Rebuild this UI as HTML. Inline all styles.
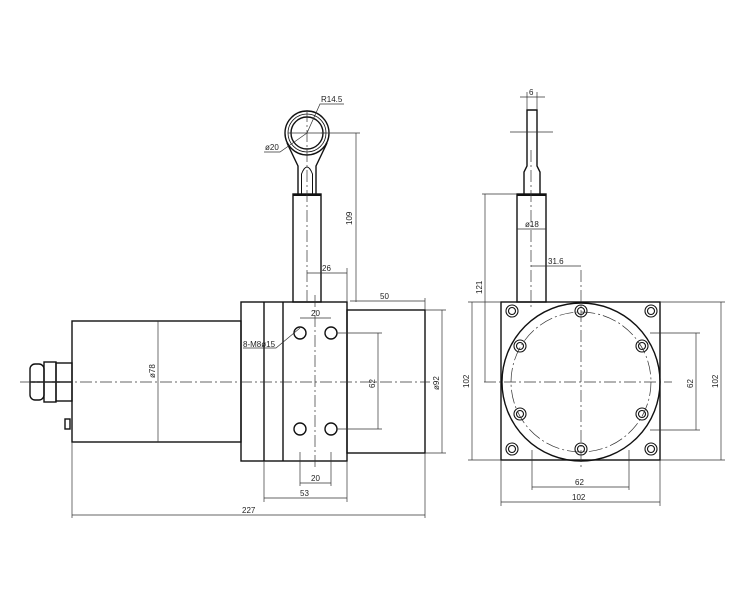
<!DOCTYPE html>
<html><head><style>body{margin:0;background:#fff}svg{display:block}text{font-family:"Liberation Sans",sans-serif;font-size:8px;fill:#222}</style></head><body>
<svg width="750" height="600" viewBox="0 0 750 600">
<g fill="none" stroke="#111" stroke-width="1.4">
<!-- left view -->
<rect x="72" y="321" width="169" height="121"/>
<rect x="241" y="302" width="106" height="159"/>
<line x1="264" y1="302" x2="264" y2="461"/><line x1="283" y1="302" x2="283" y2="461"/>
<rect x="347" y="310" width="78" height="143"/>
<rect x="293" y="194" width="28" height="108"/>
<path d="M287 143 L298 166 L298 194 M327 143 L316 166 L316 194"/>
<path d="M301.5 194 L301.5 174 Q307 160 312.5 174 L312.5 194" stroke-width="1"/>
<line x1="293" y1="195" x2="321" y2="195" stroke-width="2"/>
<circle cx="307" cy="133" r="22" fill="#fff"/><circle cx="307" cy="133" r="19" stroke-width="0.8"/><circle cx="307" cy="133" r="16"/>
<circle cx="300" cy="333" r="6"/><circle cx="331" cy="333" r="6"/><circle cx="300" cy="429" r="6"/><circle cx="331" cy="429" r="6"/>
<rect x="30" y="364" width="14" height="36" rx="5"/><rect x="44" y="362" width="12" height="40"/><rect x="56" y="363" width="16" height="38"/>
<line x1="30" y1="382" x2="72" y2="382"/>
<rect x="65" y="419" width="5" height="10"/>
<!-- right view -->
<rect x="501" y="302" width="159" height="158"/>
<circle cx="581" cy="382" r="79"/>
<rect x="517" y="194" width="29" height="108"/>
<line x1="517" y1="195" x2="546" y2="195" stroke-width="2"/>
<path d="M524 194 L524 172 L527 166 L527 110 L537 110 L537 166 L540 172 L540 194"/>
</g>
<g fill="none" stroke="#111" stroke-width="1.1">
<circle cx="512" cy="311" r="6"/><circle cx="651" cy="311" r="6"/><circle cx="512" cy="449" r="6"/><circle cx="651" cy="449" r="6"/>
<circle cx="581" cy="311" r="6"/><circle cx="581" cy="449" r="6"/><circle cx="520" cy="346" r="6"/><circle cx="642" cy="346" r="6"/><circle cx="520" cy="414" r="6"/><circle cx="642" cy="414" r="6"/>
<circle cx="512" cy="311" r="3.5"/><circle cx="651" cy="311" r="3.5"/><circle cx="512" cy="449" r="3.5"/><circle cx="651" cy="449" r="3.5"/>
<circle cx="581" cy="311" r="3.5"/><circle cx="581" cy="449" r="3.5"/><circle cx="520" cy="346" r="3.5"/><circle cx="642" cy="346" r="3.5"/><circle cx="520" cy="414" r="3.5"/><circle cx="642" cy="414" r="3.5"/>
</g>
<g fill="none" stroke="#333" stroke-width="0.7">
<circle cx="581" cy="382" r="70" stroke-dasharray="14 3 2 3"/>
<g stroke-dasharray="12 3 2 3">
<line x1="20" y1="382" x2="430" y2="382"/><line x1="315" y1="295" x2="315" y2="470"/><line x1="307" y1="110" x2="307" y2="302"/>
<line x1="484" y1="382" x2="672" y2="382"/><line x1="581" y1="270" x2="581" y2="470"/><line x1="531" y1="150" x2="531" y2="310"/>
</g>
<line x1="288" y1="133" x2="326" y2="133"/>
<!-- left dims -->
<line x1="321" y1="133" x2="360" y2="133"/><line x1="356" y1="133" x2="356" y2="302"/>
<line x1="307" y1="273" x2="347" y2="273"/><line x1="347" y1="268" x2="347" y2="302"/>
<line x1="350" y1="301" x2="425" y2="301"/><line x1="425" y1="298" x2="425" y2="310"/>
<line x1="425" y1="310" x2="446" y2="310"/><line x1="425" y1="453" x2="446" y2="453"/><line x1="442" y1="310" x2="442" y2="453"/>
<line x1="337" y1="333" x2="382" y2="333"/><line x1="337" y1="429" x2="382" y2="429"/><line x1="378" y1="333" x2="378" y2="429"/>
<line x1="158" y1="321" x2="158" y2="442"/>
<line x1="300" y1="318" x2="331" y2="318"/>
<line x1="300" y1="452" x2="300" y2="486"/><line x1="331" y1="452" x2="331" y2="486"/><line x1="300" y1="483" x2="331" y2="483"/>
<line x1="264" y1="461" x2="264" y2="502"/><line x1="347" y1="461" x2="347" y2="502"/><line x1="264" y1="498" x2="347" y2="498"/>
<line x1="72" y1="442" x2="72" y2="518"/><line x1="425" y1="453" x2="425" y2="518"/><line x1="72" y1="515" x2="425" y2="515"/>
<path d="M243 348 L276 348 L300 328"/>
<path d="M344 104 L320 104 L307 133"/>
<path d="M264 152 L280 152 L307 133"/>
<!-- right dims -->
<line x1="520" y1="97" x2="545" y2="97"/><line x1="527" y1="92" x2="527" y2="110"/><line x1="537" y1="92" x2="537" y2="110"/>
<line x1="510" y1="132" x2="553" y2="132"/>
<line x1="517" y1="229" x2="546" y2="229"/>
<line x1="531" y1="266" x2="581" y2="266"/>
<line x1="482" y1="194" x2="517" y2="194"/><line x1="485" y1="194" x2="485" y2="382"/>
<line x1="468" y1="302" x2="501" y2="302"/><line x1="468" y1="460" x2="501" y2="460"/><line x1="472" y1="302" x2="472" y2="460"/>
<line x1="660" y1="302" x2="725" y2="302"/><line x1="660" y1="460" x2="725" y2="460"/><line x1="721" y1="302" x2="721" y2="460"/>
<line x1="650" y1="333" x2="700" y2="333"/><line x1="650" y1="430" x2="700" y2="430"/><line x1="696" y1="333" x2="696" y2="430"/>
<line x1="532" y1="450" x2="532" y2="490"/><line x1="629" y1="450" x2="629" y2="490"/><line x1="532" y1="487" x2="629" y2="487"/>
<line x1="501" y1="460" x2="501" y2="506"/><line x1="660" y1="460" x2="660" y2="506"/><line x1="501" y1="502" x2="660" y2="502"/>
</g>
<text x="321" y="102">R14.5</text>
<text x="265" y="150">ø20</text>
<text x="0" y="0" transform="translate(352 225) rotate(-90)">109</text>
<text x="322" y="271">26</text>
<text x="380" y="299">50</text>
<text x="311" y="316">20</text>
<text x="243" y="347">8-M8ø15</text>
<text x="0" y="0" transform="translate(155 378) rotate(-90)">ø78</text>
<text x="0" y="0" transform="translate(375 388) rotate(-90)">62</text>
<text x="0" y="0" transform="translate(439 390) rotate(-90)">ø92</text>
<text x="311" y="481">20</text>
<text x="300" y="496">53</text>
<text x="242" y="513">227</text>
<text x="529" y="95">6</text>
<text x="525" y="227">ø18</text>
<text x="548" y="264">31.6</text>
<text x="0" y="0" transform="translate(482 294) rotate(-90)">121</text>
<text x="0" y="0" transform="translate(469 388) rotate(-90)">102</text>
<text x="0" y="0" transform="translate(693 388) rotate(-90)">62</text>
<text x="0" y="0" transform="translate(718 388) rotate(-90)">102</text>
<text x="575" y="485">62</text>
<text x="572" y="500">102</text>
</svg>
</body></html>
